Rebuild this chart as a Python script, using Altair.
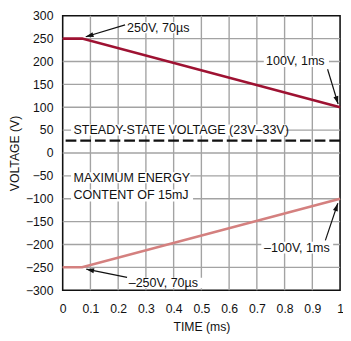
import math
import altair as alt
import pandas as pd

# ---- data ----
time_ms = [0, 0.07, 1]
upper_v = [250, 250, 100]
lower_v = [-250, -250, -100]
steady_v = [27]

x_ticks = [round(i * 0.1, 1) for i in range(11)]
y_ticks = list(range(-300, 301, 50))

label_text = ["250V, 70µs", "100V, 1ms", "STEADY-STATE VOLTAGE (23V–33V)",
              "MAXIMUM ENERGY", "CONTENT OF 15mJ", "–100V, 1ms", "–250V, 70µs"]
label_x = [0.232, 0.733, 0.039, 0.039, 0.039, 0.726, 0.238]
label_y = [274, 200, 50, -55, -93, -207, -285]
box_x1 = [0.225, 0.725, 0.030, 0.030, 0.030, 0.716, 0.230]
box_x2 = [0.475, 0.960, 0.805, 0.460, 0.470, 0.975, 0.505]
box_y1 = [262, 188, 38, -66, -106, -220, -296]
box_y2 = [286, 212, 62, -42, -80, -194, -273]

arrow_tx = [0.225, 0.955, 0.947, 0.232]
arrow_tv = [280, 183, -191, -272]
arrow_hx = [0.083, 0.993, 0.992, 0.085]
arrow_hv = [254, 107, -110, -254]

W, H = 284, 281
PX_X = W / 1.0
PX_Y = H / 600.0

FONT = "Liberation Sans"

lines_df = pd.DataFrame({
    "t": time_ms * 2,
    "v": upper_v + lower_v,
    "s": ["upper"] * 3 + ["lower"] * 3,
})

labels_df = pd.DataFrame({"text": label_text, "x": label_x, "y": label_y})
boxes_df = pd.DataFrame({"x1": box_x1, "x2": box_x2, "y1": box_y1, "y2": box_y2})

angles = []
for tx, tv, hx, hv in zip(arrow_tx, arrow_tv, arrow_hx, arrow_hv):
    dx = (hx - tx) * PX_X
    dy = -(hv - tv) * PX_Y
    angles.append(math.degrees(math.atan2(dx, -dy)) % 360)
arrows_df = pd.DataFrame({"tx": arrow_tx, "tv": arrow_tv, "hx": arrow_hx,
                          "hv": arrow_hv, "ang": angles})

xs = alt.Scale(domain=[0, 1], nice=False, zero=False)
ys = alt.Scale(domain=[-300, 300], nice=False, zero=False)

x_axis = alt.Axis(values=x_ticks, format=".1~f", title="TIME (ms)", ticks=False,
                  domain=False, grid=False, labelPadding=13, titlePadding=6,
                  labelFlush=False)
y_axis = alt.Axis(values=y_ticks, title="VOLTAGE (V)", ticks=False, domain=False,
                  grid=False, labelPadding=10, titlePadding=4, labelFlush=False)


def X(field):
    return alt.X(field, scale=xs, axis=x_axis)


def Y(field):
    return alt.Y(field, scale=ys, axis=y_axis)


GRID = "#a3a3a3"
vgrid = alt.Chart(pd.DataFrame({"g": x_ticks[1:-1]})).mark_rule(
    color=GRID, strokeWidth=1.4).encode(x=X("g:Q"))
hgrid = alt.Chart(pd.DataFrame({"g": y_ticks[1:-1]})).mark_rule(
    color=GRID, strokeWidth=1.4).encode(y=Y("g:Q"))

lines = alt.Chart(lines_df).mark_line(strokeWidth=2.6).encode(
    x=X("t:Q"),
    y=Y("v:Q"),
    color=alt.Color("s:N", scale=alt.Scale(domain=["upper", "lower"],
                                           range=["#9e1232", "#d4807f"]),
                    legend=None),
    detail="s:N",
)

boxes = alt.Chart(boxes_df).mark_rect(color="white").encode(
    x=X("x1:Q"), x2="x2:Q",
    y=Y("y1:Q"), y2="y2:Q",
)

steady = alt.Chart(pd.DataFrame({"v": steady_v})).mark_rule(
    color="#111", strokeWidth=2.5, strokeDash=[11, 4]
).encode(y=Y("v:Q"))

shafts = alt.Chart(arrows_df).mark_rule(color="#111", strokeWidth=1.2).encode(
    x=X("tx:Q"), y=Y("tv:Q"),
    x2="hx:Q", y2="hv:Q",
)

heads = alt.Chart(arrows_df).mark_point(
    shape="M0,0L-0.32,1L0.32,1Z", filled=True, color="#111", size=256,
    opacity=1, strokeWidth=0
).encode(
    x=X("hx:Q"), y=Y("hv:Q"),
    angle=alt.Angle("ang:Q", scale=None),
)

texts = alt.Chart(labels_df).mark_text(
    align="left", baseline="middle", font=FONT, fontSize=12.8, color="#111"
).encode(
    x=X("x:Q"), y=Y("y:Q"), text="text:N",
)

chart = alt.layer(vgrid, hgrid, boxes, steady, lines, shafts, heads, texts).properties(
    width=W, height=H,
    autosize=alt.AutoSizeParams(type="none"),
    padding={"left": 56, "top": 4, "right": 3, "bottom": 44},
).configure_view(
    stroke="#111", strokeWidth=1.6
).configure_axis(
    labelFont=FONT, titleFont=FONT, labelFontSize=12.5, titleFontSize=12.5,
    titleFontWeight="normal", labelColor="#111", titleColor="#111",
)

chart.save("out.html", embed_options={"renderer": "svg", "actions": False})
